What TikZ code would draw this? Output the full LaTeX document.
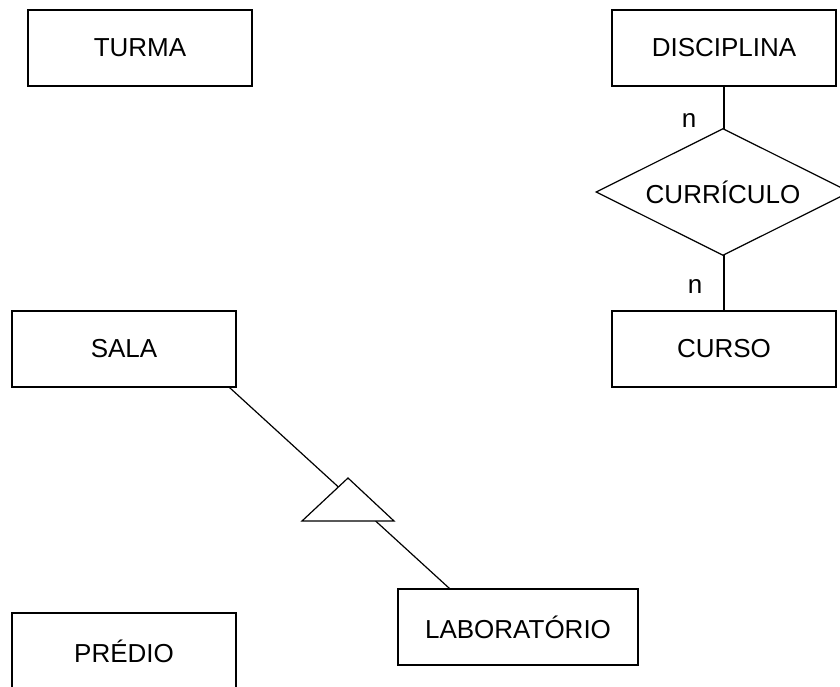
\documentclass[tikz,border=0pt]{standalone}
\usepackage{fontspec}
\setmainfont{Liberation Sans}
\usetikzlibrary{shapes.geometric,calc}
\begin{document}
\begin{tikzpicture}[x=1pt,y=-1pt,
  every node/.style={font=\fontsize{26}{30}\selectfont},
  entity/.style={draw,line width=1.2pt,minimum width=224pt,minimum height=76pt,inner sep=0pt},
  relation/.style={draw,line width=1.2pt,diamond,aspect=2,minimum width=254pt,minimum height=127pt,inner sep=0pt,fill=white},
  link/.style={line width=1.2pt},
  card/.style={inner sep=0pt}]
\useasboundingbox (0,0) rectangle (840,687);
\clip (0,0) rectangle (840,687);

% entities
\node[entity] (turma) at (140,48) {TURMA};
\node[entity] (disciplina) at (724,48) {DISCIPLINA};
\node[entity] (curso) at (724,349) {CURSO};
\node[entity] (sala) at (124,349) {SALA};
\node[entity] (predio) at (124,651) {PRÉDIO};
\node[entity,minimum width=240pt] (lab) at (518,627) {LABORATÓRIO};

% relationship between DISCIPLINA and CURSO
\draw[link] (disciplina.south) -- (curso.north);
\node[relation] (curriculo) at (723,192) {CURRÍCULO};
\node[card] (n1) at (689,121) {n};
\node[card] (n2) at (695,287) {n};

% specialization of SALA into LABORATÓRIO
\coordinate (salaend) at ($(sala.south east)+(-7,0)$);
\coordinate (labend) at ($(lab.north west)+(52,0)$);
\draw[link] (salaend) -- (labend);
\coordinate (isa) at (348,500);
\draw[link,fill=white,line join=miter] ($(isa)+(0,-22)$) -- ($(isa)+(46,21)$) -- ($(isa)+(-46,21)$) -- cycle;
\end{tikzpicture}
\end{document}
